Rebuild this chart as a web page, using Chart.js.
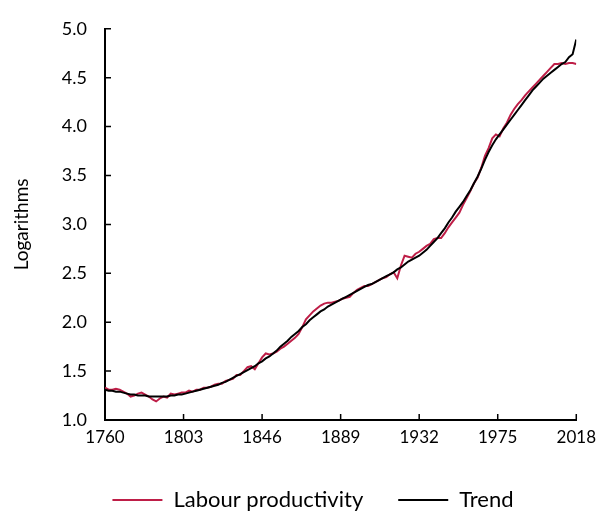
<!DOCTYPE html>
<html>
<head>
<meta charset="utf-8">
<script src="https://cdn.jsdelivr.net/npm/chart.js@4.4.0/dist/chart.umd.min.js"></script>
<style>
  html, body { margin: 0; padding: 0; background: #fff; }
</style>
</head>
<body>
<canvas id="lineChart" width="603" height="512"></canvas>
<script>
const years = [
  1760, 1762, 1764, 1766, 1768, 1770, 1772, 1774, 1776, 1778,
  1780, 1782, 1784, 1786, 1788, 1790, 1792, 1794, 1796, 1798,
  1800, 1802, 1804, 1806, 1808, 1810, 1812, 1814, 1816, 1818,
  1820, 1822, 1824, 1826, 1828, 1830, 1832, 1834, 1836, 1838,
  1840, 1842, 1844, 1846, 1848, 1850, 1852, 1854, 1856, 1858,
  1860, 1862, 1864, 1866, 1868, 1870, 1872, 1874, 1876, 1878,
  1880, 1882, 1884, 1886, 1888, 1890, 1892, 1894, 1896, 1898,
  1900, 1902, 1904, 1906, 1908, 1910, 1912, 1914, 1916, 1918,
  1920, 1922, 1924, 1926, 1928, 1930, 1932, 1934, 1936, 1938,
  1940, 1942, 1944, 1946, 1948, 1950, 1952, 1954, 1956, 1958,
  1960, 1962, 1964, 1966, 1968, 1970, 1972, 1974, 1976, 1978,
  1980, 1982, 1984, 1986, 1988, 1990, 1992, 1994, 1996, 1998,
  2000, 2002, 2004, 2006, 2008, 2010, 2012, 2014, 2016, 2018
];

const productivity = [
  1.33, 1.31, 1.31, 1.32, 1.31, 1.29, 1.27, 1.24, 1.25, 1.27,
  1.28, 1.26, 1.24, 1.21, 1.19, 1.22, 1.24, 1.23, 1.27, 1.26,
  1.27, 1.28, 1.28, 1.30, 1.29, 1.31, 1.31, 1.33, 1.33, 1.34,
  1.36, 1.37, 1.37, 1.40, 1.41, 1.42, 1.46, 1.46, 1.50, 1.54,
  1.55, 1.52, 1.58, 1.64, 1.68, 1.67, 1.68, 1.70, 1.73, 1.75,
  1.78, 1.81, 1.84, 1.88, 1.95, 2.03, 2.07, 2.11, 2.14, 2.17,
  2.19, 2.20, 2.20, 2.21, 2.22, 2.24, 2.25, 2.26, 2.30, 2.33,
  2.35, 2.37, 2.37, 2.39, 2.41, 2.43, 2.45, 2.46, 2.49, 2.51,
  2.45, 2.58, 2.68, 2.67, 2.66, 2.70, 2.72, 2.75, 2.78, 2.80,
  2.85, 2.86, 2.86, 2.91, 2.97, 3.02, 3.07, 3.12, 3.20, 3.27,
  3.34, 3.42, 3.48, 3.58, 3.70, 3.78, 3.88, 3.92, 3.90, 3.98,
  4.04, 4.12, 4.18, 4.23, 4.27, 4.32, 4.36, 4.40, 4.44, 4.48,
  4.52, 4.56, 4.60, 4.64, 4.64, 4.65, 4.64, 4.65, 4.65, 4.64
];

const trend = [
  1.31, 1.30, 1.30, 1.29, 1.29, 1.28, 1.27, 1.26, 1.26, 1.25,
  1.25, 1.25, 1.24, 1.24, 1.24, 1.24, 1.24, 1.24, 1.25, 1.25,
  1.26, 1.26, 1.27, 1.28, 1.29, 1.30, 1.31, 1.32, 1.33, 1.34,
  1.35, 1.36, 1.38, 1.39, 1.41, 1.43, 1.45, 1.47, 1.49, 1.51,
  1.53, 1.55, 1.58, 1.60, 1.63, 1.65, 1.68, 1.71, 1.75, 1.78,
  1.81, 1.85, 1.88, 1.91, 1.95, 1.98, 2.02, 2.05, 2.08, 2.11,
  2.13, 2.16, 2.18, 2.20, 2.22, 2.24, 2.26, 2.28, 2.30, 2.32,
  2.34, 2.36, 2.38, 2.39, 2.41, 2.43, 2.45, 2.47, 2.49, 2.51,
  2.54, 2.56, 2.59, 2.62, 2.64, 2.66, 2.68, 2.71, 2.74, 2.78,
  2.82, 2.86, 2.91, 2.96, 3.02, 3.07, 3.13, 3.18, 3.23, 3.29,
  3.35, 3.42, 3.49, 3.57, 3.66, 3.74, 3.81, 3.87, 3.92, 3.97,
  4.02, 4.07, 4.12, 4.17, 4.22, 4.27, 4.32, 4.37, 4.41, 4.45,
  4.49, 4.52, 4.55, 4.58, 4.61, 4.64, 4.66, 4.71, 4.74, 4.89
];

const xTicks = [1760, 1803, 1846, 1889, 1932, 1975, 2018];

Chart.defaults.font.family = 'Lato, "Open Sans", sans-serif';
Chart.defaults.color = '#000';

// short tick marks pointing into the plot, like the original
const tickMarks = {
  id: 'tickMarks',
  afterDatasetsDraw(chart) {
    const {ctx, scales: {x, y}} = chart;
    ctx.save();
    ctx.strokeStyle = '#000';
    ctx.lineWidth = 1.5;
    ctx.beginPath();
    y.ticks.forEach(t => {
      const py = y.getPixelForValue(t.value);
      ctx.moveTo(x.left, py);
      ctx.lineTo(x.left + 6, py);
    });
    x.ticks.forEach(t => {
      const px = x.getPixelForValue(t.value);
      ctx.moveTo(px, y.bottom);
      ctx.lineTo(px, y.bottom - 6);
    });
    ctx.stroke();
    ctx.restore();
  }
};

// nudge the legend so it sits under the plot like in the source
const legendShift = {
  id: 'legendShift',
  afterLayout(chart) {
    chart.legend.left += 49;
  }
};

const ctx = document.getElementById('lineChart');
new Chart(ctx, {
  type: 'line',
  data: {
    labels: years,
    datasets: [{
      label: 'Labour productivity',
      data: years.map((yr, i) => ({x: yr, y: productivity[i]})),
      borderColor: '#BE1E47',
      backgroundColor: '#BE1E47',
      borderWidth: 2,
      pointRadius: 0,
      tension: 0,
      order: 2
    }, {
      label: 'Trend',
      data: years.map((yr, i) => ({x: yr, y: trend[i]})),
      borderColor: '#000000',
      backgroundColor: '#000000',
      borderWidth: 2,
      pointRadius: 0,
      tension: 0,
      order: 1
    }]
  },
  options: {
    responsive: false,
    animation: false,
    devicePixelRatio: 1,
    layout: { padding: { left: 0, right: 26, top: 28, bottom: 0 } },
    plugins: {
      legend: {
        position: 'bottom',
        maxHeight: 58,
        labels: {
          usePointStyle: true,
          pointStyle: 'line',
          pointStyleWidth: 50,
          padding: 35,
          color: '#000',
          font: { size: 22 },
          sort: (a, b) => a.datasetIndex - b.datasetIndex
        }
      },
      tooltip: { enabled: false }
    },
    scales: {
      x: {
        type: 'linear',
        min: 1760,
        max: 2018,
        afterBuildTicks: s => { s.ticks = xTicks.map(v => ({value: v})); },
        afterFit: s => { s.height = 34; },
        grid: { display: false, drawTicks: false },
        border: { color: '#000', width: 2 },
        ticks: {
          padding: 7,
          color: '#000',
          font: { size: 17 },
          maxRotation: 0,
          autoSkip: false,
          callback: v => String(v)
        }
      },
      y: {
        min: 1,
        max: 5,
        afterFit: s => { s.width = 105; },
        grid: { display: false, drawTicks: false },
        border: { color: '#000', width: 2 },
        title: {
          display: true,
          text: 'Logarithms',
          color: '#000',
          font: { size: 19 },
          padding: { top: 10, bottom: 0 }
        },
        ticks: {
          stepSize: 0.5,
          padding: 18,
          color: '#000',
          font: { size: 18 },
          callback: v => v.toFixed(1)
        }
      }
    }
  },
  plugins: [tickMarks, legendShift]
});
</script>
</body>
</html>
